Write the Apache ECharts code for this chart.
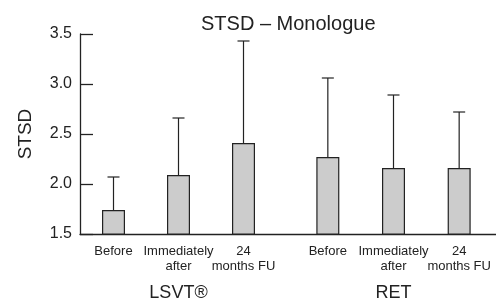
<!DOCTYPE html>
<html>
<head>
<meta charset="utf-8">
<script src="https://cdn.jsdelivr.net/npm/echarts@6/dist/echarts.min.js"></script>
<style>
  html, body { margin: 0; padding: 0; background: #fff; }
  #chart { width: 496px; height: 303px; }
</style>
</head>
<body>
<div id="chart"></div>
<script>
  //region data
  let timepoints = ['Before', 'Immediately\nafter', '24\nmonths FU'];
  let groups = ['LSVT®', 'RET'];
  let lsvtMean = [1.74, 2.09, 2.41];
  let lsvtSd = [0.33, 0.57, 1.02];
  let retMean = [2.27, 2.16, 2.16];
  let retSd = [0.79, 0.73, 0.56];
  let yTicks = [1.5, 2.0, 2.5, 3.0, 3.5];
  //endregion

  let font = '"Liberation Sans", Arial, Helvetica, sans-serif';
  let ink = '#222';

  // error bar (mean -> mean + sd) with a small cap
  function errorBar(params, api) {
    let idx = api.value(0);
    let lo = api.coord([idx, api.value(1)]);
    let hi = api.coord([idx, api.value(2)]);
    let half = 6;
    let style = {stroke: ink, lineWidth: 1.2};
    return {
      type: 'group',
      children: [
        {type: 'line', shape: {x1: hi[0], y1: lo[1], x2: hi[0], y2: hi[1]}, style: style},
        {type: 'line', shape: {x1: hi[0] - half, y1: hi[1], x2: hi[0] + half, y2: hi[1]}, style: style}
      ]
    };
  }

  function errData(mean, sd) {
    return mean.map((m, i) => [i, m, +(m + sd[i]).toFixed(2)]);
  }

  let yBase = {
    type: 'value',
    min: yTicks[0],
    max: yTicks[yTicks.length - 1],
    interval: 0.5
  };

  function groupXAxis(gi, name) {
    return {
      type: 'category',
      gridIndex: gi,
      data: timepoints,
      axisLine: {show: false},
      axisTick: {show: false},
      axisLabel: {
        color: ink, fontFamily: font, fontSize: 13, lineHeight: 15, margin: 10, interval: 0
      },
      name: name,
      nameLocation: 'middle',
      nameGap: 50,
      nameTextStyle: {color: ink, fontFamily: font, fontSize: 18}
    };
  }

  let chart = echarts.init(document.getElementById('chart'));

  let option = {
    animation: false,
    title: {
      text: 'STSD – Monologue',
      left: 196,
      top: 9,
      textStyle: {color: ink, fontFamily: font, fontSize: 20, fontWeight: 'normal'}
    },
    grid: [
      {left: 80, right: 0, top: 34, height: 200, outerBoundsMode: 'none'},
      {left: 81, width: 195, top: 34, height: 200, outerBoundsMode: 'none'},
      {left: 295, width: 197, top: 34, height: 200, outerBoundsMode: 'none'}
    ],
    xAxis: [
      {
        type: 'value', gridIndex: 0, min: 0, max: 1,
        axisLine: {show: true, lineStyle: {color: ink, width: 1.3}},
        axisTick: {show: false},
        axisLabel: {show: false},
        splitLine: {show: false}
      },
      groupXAxis(1, groups[0]),
      groupXAxis(2, groups[1])
    ],
    yAxis: [
      Object.assign({}, yBase, {
        gridIndex: 0,
        name: 'STSD',
        nameLocation: 'middle',
        nameGap: 45,
        nameTextStyle: {color: ink, fontFamily: font, fontSize: 19},
        axisLine: {show: true, lineStyle: {color: ink, width: 1.3}},
        axisTick: {show: true, inside: true, length: 13, lineStyle: {color: ink, width: 1.3}},
        axisLabel: {
          color: ink, fontFamily: font, fontSize: 16, margin: 8,
          formatter: v => v.toFixed(1)
        },
        splitLine: {show: false}
      }),
      Object.assign({}, yBase, {gridIndex: 1, show: false}),
      Object.assign({}, yBase, {gridIndex: 2, show: false})
    ],
    series: [
      {
        type: 'bar', xAxisIndex: 1, yAxisIndex: 1,
        data: lsvtMean, barWidth: 23,
        itemStyle: {color: '#cccccc', borderColor: ink, borderWidth: 1.2}
      },
      {
        type: 'bar', xAxisIndex: 2, yAxisIndex: 2,
        data: retMean, barWidth: 23,
        itemStyle: {color: '#cccccc', borderColor: ink, borderWidth: 1.2}
      },
      {
        type: 'custom', xAxisIndex: 1, yAxisIndex: 1,
        data: errData(lsvtMean, lsvtSd), renderItem: errorBar, z: 3
      },
      {
        type: 'custom', xAxisIndex: 2, yAxisIndex: 2,
        data: errData(retMean, retSd), renderItem: errorBar, z: 3
      }
    ]
  };

  chart.setOption(option);
</script>
</body>
</html>
